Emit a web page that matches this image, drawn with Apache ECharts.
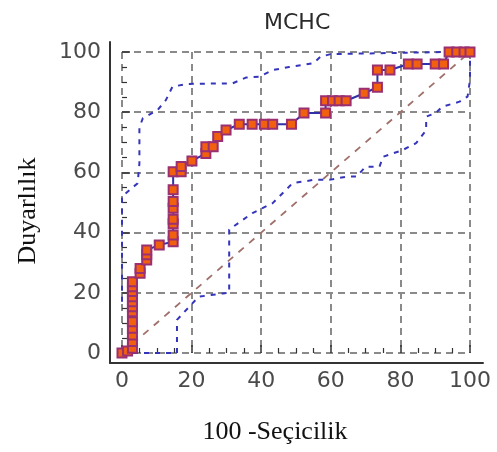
<!DOCTYPE html>
<html><head><meta charset="utf-8">
<script src="https://cdn.jsdelivr.net/npm/echarts@6/dist/echarts.min.js"></script>
<style>html,body{margin:0;padding:0;background:#fff}#c{width:497px;height:452px}</style>
</head><body><div id="c"></div>
<script>
const titleText = 'MCHC';
const xTitle = '100 -Seçicilik';
const yTitle = 'Duyarlılık';
const tickValues = [0, 20, 40, 60, 80, 100];

// ROC curve points (100 - specificity, sensitivity)
const rocX = [0, 1.6, 3, 3, 3, 3, 3, 3, 3, 3, 3, 3, 3, 3, 5.2, 5.2, 7.1, 7.1, 7.1, 10.7, 14.7, 14.7, 14.7, 14.7, 14.7, 14.7, 14.7, 14.7, 17, 17, 20.1, 24.1, 24.1, 26.2, 27.5, 29.9, 33.7, 37.4, 40.9, 43.3, 48.7, 52.3, 58.5, 58.5, 60.5, 62.4, 64.4, 69.6, 73.4, 73.4, 77, 82.3, 84.8, 90, 92.4, 94, 96.2, 98.3, 100];
const rocY = [0, 0.7, 1.6, 3.8, 6, 8.2, 10.4, 13.7, 15.4, 17, 18.7, 20.4, 22, 23.7, 26.5, 28.1, 30.9, 32.6, 34.2, 35.9, 37, 39.2, 42.9, 44.4, 48.1, 50.3, 54.2, 60.2, 60.2, 62, 63.8, 66.3, 68.5, 68.5, 71.9, 74.1, 76, 76, 76, 76, 76, 79.7, 79.7, 83.8, 83.8, 83.8, 83.8, 86.3, 88.3, 94, 94, 96, 96, 96, 96, 100, 100, 100, 100];

// Upper confidence bound
const upperX = [0, 0, 4.5, 5, 5, 6, 10.2, 12.6, 14.5, 18.8, 31.8, 35.6, 39.5, 43.3, 48, 55, 57, 60, 93, 100];
const upperY = [17, 52, 56.4, 63, 75, 78, 80.7, 84, 88.5, 89.4, 89.6, 91.5, 91.8, 94, 95, 96.3, 98.4, 99.3, 100, 100];

// Lower confidence bound
const lowerX = [0, 15.8, 15.8, 22, 29, 30.8, 30.8, 37.5, 43.3, 49, 55, 60, 64.5, 67.4, 70, 74, 75, 80.6, 84.5, 87.4, 87.4, 90.2, 92, 97, 99.3, 100, 100];
const lowerY = [0, 0, 11, 18.7, 19.8, 20, 41, 46.5, 49.8, 56.4, 57.5, 57.6, 58.6, 58.6, 61.9, 61.9, 65.2, 67.4, 69.7, 74, 78.5, 79.8, 81.8, 83.5, 85.2, 90.7, 100];

// Reference diagonal
const diagX = [0, 100];
const diagY = [0, 100];

const zip = (a, b) => a.map((v, i) => [v, b[i]]);

const chart = echarts.init(document.getElementById('c'), null, {renderer: 'canvas'});
const labelStyle = {fontSize: 22, fontFamily: 'DejaVu Sans', color: '#4a4a4a'};
const gridLine = {show: true, lineStyle: {type: [7, 5], color: '#8a8a8a', width: 2}};

chart.setOption({
  animation: false,
  backgroundColor: '#fff',
  title: {text: titleText, left: 259, top: 7, textStyle: {fontSize: 22, fontWeight: 'normal', fontFamily: 'DejaVu Sans', color: '#2a2a2a'}},
  graphic: [
    {type: 'text', x: 275, y: 432, style: {text: xTitle, font: '26px "Liberation Serif"', fill: '#111', textAlign: 'center', textVerticalAlign: 'middle'}},
    {type: 'text', x: 28, y: 211, rotation: Math.PI / 2, style: {text: yTitle, font: '26px "Liberation Serif"', fill: '#111', textAlign: 'center', textVerticalAlign: 'middle'}}
  ],
  grid: [
    {left: 110, right: 14, top: 42, bottom: 89},
    {left: 122, right: 27, top: 52, bottom: 99}
  ],
  xAxis: [
    {gridIndex: 0, type: 'value', min: 0, max: 1, axisLine: {show: true, lineStyle: {color: '#333', width: 2}}, axisTick: {show: false}, axisLabel: {show: false}, splitLine: {show: false}},
    {gridIndex: 1, type: 'value', min: 0, max: 100, interval: 20, offset: 10,
      axisLine: {show: false}, axisTick: {show: true, inside: true, length: 8, lineStyle: {color: '#333', width: 1.5}},
      minorTick: {show: true, splitNumber: 4, length: 5, lineStyle: {color: '#333', width: 1.2}},
      axisLabel: Object.assign({margin: 7}, labelStyle), splitLine: gridLine}
  ],
  yAxis: [
    {gridIndex: 0, type: 'value', min: 0, max: 1, axisLine: {show: true, lineStyle: {color: '#333', width: 2}}, axisTick: {show: false}, axisLabel: {show: false}, splitLine: {show: false}},
    {gridIndex: 1, type: 'value', min: 0, max: 100, interval: 20, offset: 12,
      axisLine: {show: false}, axisTick: {show: true, inside: true, length: 8, lineStyle: {color: '#333', width: 1.5}},
      minorTick: {show: true, splitNumber: 4, length: 5, lineStyle: {color: '#333', width: 1.2}},
      axisLabel: Object.assign({margin: 9}, labelStyle), splitLine: gridLine}
  ],
  series: [
    {type: 'line', xAxisIndex: 1, yAxisIndex: 1, data: zip(diagX, diagY), symbol: 'none', lineStyle: {color: '#a0706a', width: 1.8, type: [7, 7]}},
    {type: 'line', xAxisIndex: 1, yAxisIndex: 1, data: zip(upperX, upperY), symbol: 'none', lineStyle: {color: '#3535bb', width: 2, type: [5, 6]}},
    {type: 'line', xAxisIndex: 1, yAxisIndex: 1, data: zip(lowerX, lowerY), symbol: 'none', lineStyle: {color: '#3535bb', width: 2, type: [5, 6]}},
    {type: 'line', xAxisIndex: 1, yAxisIndex: 1, data: zip(rocX, rocY), symbol: 'rect', symbolSize: 9,
      lineStyle: {color: '#3030a8', width: 2},
      itemStyle: {color: '#f0600e', borderColor: '#9a2f72', borderWidth: 2}}
  ]
});
</script>
</body></html>
